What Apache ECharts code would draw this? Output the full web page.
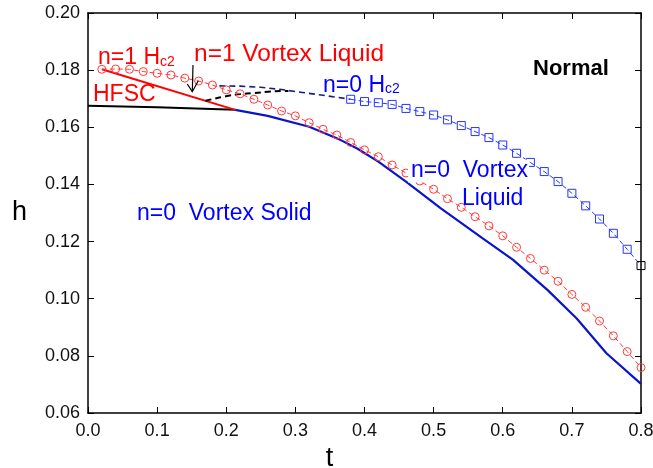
<!DOCTYPE html>
<html>
<head>
<meta charset="utf-8">
<script src="https://cdn.jsdelivr.net/npm/echarts@6/dist/echarts.min.js"></script>
<style>
	html, body { margin: 0; padding: 0; background: #fff; }
	#main { width: 653px; height: 468px; }
</style>
</head>
<body>
<div id="main"></div>
<script>
// n=1 Hc2 (red dashed with circles)
var circleT = [0.02, 0.04, 0.06, 0.08, 0.10, 0.12, 0.14, 0.16, 0.18, 0.20, 0.22, 0.24, 0.26, 0.28, 0.30, 0.32, 0.34, 0.36, 0.38, 0.40,
	0.42, 0.44, 0.46, 0.48, 0.50, 0.52, 0.54, 0.56, 0.58, 0.60, 0.62, 0.64, 0.66, 0.68, 0.70, 0.72, 0.74, 0.76, 0.78, 0.80];
var circleH = [0.1803, 0.1804, 0.1803, 0.1795, 0.1789, 0.1783, 0.1772, 0.1762, 0.1748, 0.1731, 0.1717, 0.1698, 0.1678, 0.1657, 0.1640, 0.1616, 0.1593, 0.1573, 0.1547, 0.1521,
	0.1497, 0.1468, 0.1440, 0.1412, 0.1383, 0.1350, 0.1320, 0.1287, 0.1255, 0.1220, 0.1180, 0.1141, 0.1100, 0.1061, 0.1015, 0.0970, 0.0922, 0.0870, 0.0815, 0.0759];
// n=0 Hc2 (blue dashed with squares)
var squareT = [0.38, 0.40, 0.42, 0.44, 0.46, 0.48, 0.50, 0.52, 0.54, 0.56, 0.58, 0.60, 0.62, 0.64, 0.66, 0.68, 0.70, 0.72, 0.74, 0.76, 0.78, 0.80];
var squareH = [0.1698, 0.1690, 0.1686, 0.1680, 0.1666, 0.1655, 0.1643, 0.1626, 0.1606, 0.1585, 0.1564, 0.1538, 0.1509, 0.1477, 0.1445, 0.1410, 0.1369, 0.1325, 0.1279, 0.1229, 0.1173, 0.1116];
// n=0 Hc2 continued at low t (navy dashed, no markers)
var navyT = [0.19, 0.22, 0.25, 0.28, 0.31, 0.34, 0.36, 0.38];
var navyH = [0.1745, 0.1744, 0.1740, 0.1732, 0.1722, 0.1712, 0.1705, 0.1698];
// n=1 vortex liquid boundary (black dashed)
var dashT = [0.17, 0.19, 0.21, 0.23, 0.25, 0.27, 0.29];
var dashH = [0.1693, 0.1704, 0.1713, 0.1718, 0.1722, 0.1726, 0.1727];
// HFSC / n=0 solid boundary (black solid)
var blackT = [0.0, 0.1, 0.213];
var blackH = [0.1675, 0.1670, 0.1661];
// HFSC upper boundary (red solid)
var redT = [0.02, 0.213];
var redH = [0.1803, 0.1661];
// n=0 melting line (blue solid)
var blueT = [0.213, 0.26, 0.32, 0.365, 0.39, 0.42, 0.46, 0.51, 0.57, 0.615, 0.665, 0.707, 0.75, 0.80];
var blueH = [0.1661, 0.1640, 0.1602, 0.1556, 0.1525, 0.1480, 0.1410, 0.1317, 0.1213, 0.1136, 0.1030, 0.0931, 0.0809, 0.0702];

function pairs(xs, ys) {
	var result = [];
	for (var i = 0; i < xs.length; i++) {
		result.push([xs[i], ys[i]]);
	}
	return result;
}

var FONT = 'Liberation Sans, Arial, Helvetica, sans-serif';

var squareData = pairs(squareT, squareH);
// last square drawn in black
squareData[squareData.length - 1] = {
	value: squareData[squareData.length - 1],
	itemStyle: { borderColor: '#000' }
};

function label(text, x, y, color, size, extra) {
	var st = {
		text: text,
		x: x,
		y: y,
		fill: color,
		fontSize: size,
		fontFamily: FONT,
		align: 'left',
		verticalAlign: 'middle'
	};
	for (var k in extra) st[k] = extra[k];
	return { type: 'text', z: 100, style: st };
}

var myChart = echarts.init(document.getElementById('main'));
option = {
	backgroundColor: '#fff',
	animation: false,
	grid: { left: 88, right: 12, top: 13, bottom: 55, containLabel: false, outerBoundsMode: 'none' },
	xAxis: [{
		type: 'value',
		min: 0,
		max: 0.8,
		interval: 0.1,
		name: 't',
		nameLocation: 'middle',
		nameGap: 26,
		nameTextStyle: { fontSize: 27, fontFamily: FONT, color: '#000', padding: [0, 70, 0, 0] },
		axisLine: { onZero: false, lineStyle: { color: '#000', width: 1.5 } },
		axisTick: { inside: true, length: 6, lineStyle: { color: '#000' } },
		axisLabel: {
			margin: 9, fontSize: 18, fontFamily: FONT, color: '#111',
			formatter: function(v) { return v.toFixed(1); }
		},
		splitLine: { show: false }
	}, {
		type: 'value',
		position: 'top',
		min: 0,
		max: 0.8,
		interval: 0.1,
		axisLine: { onZero: false, lineStyle: { color: '#000', width: 1.5 } },
		axisTick: { inside: true, length: 6, lineStyle: { color: '#000' } },
		axisLabel: { show: false },
		splitLine: { show: false }
	}],
	yAxis: [{
		type: 'value',
		min: 0.06,
		max: 0.20,
		interval: 0.02,
		name: 'h',
		nameLocation: 'middle',
		nameRotate: 0,
		nameGap: 61,
		nameTextStyle: { fontSize: 27, fontFamily: FONT, color: '#000' },
		axisLine: { show: true, onZero: false, lineStyle: { color: '#000', width: 1.5 } },
		axisTick: { show: true, inside: true, length: 6, lineStyle: { color: '#000' } },
		axisLabel: {
			margin: 8, fontSize: 18, fontFamily: FONT, color: '#111',
			formatter: function(v) { return v.toFixed(2); }
		},
		splitLine: { show: false }
	}, {
		type: 'value',
		position: 'right',
		min: 0.06,
		max: 0.20,
		interval: 0.02,
		axisLine: { show: true, onZero: false, lineStyle: { color: '#000', width: 1.5 } },
		axisTick: { show: true, inside: true, length: 6, lineStyle: { color: '#000' } },
		axisLabel: { show: false },
		splitLine: { show: false }
	}],
	series: [{
		name: 'black solid',
		type: 'line',
		symbol: 'none',
		lineStyle: { color: '#000', width: 2 },
		data: pairs(blackT, blackH)
	}, {
		name: 'red solid',
		type: 'line',
		symbol: 'none',
		lineStyle: { color: '#ff0000', width: 2 },
		data: pairs(redT, redH)
	}, {
		name: 'blue solid',
		type: 'line',
		symbol: 'none',
		lineStyle: { color: '#0a14c8', width: 2.2 },
		data: pairs(blueT, blueH)
	}, {
		name: 'black dashed',
		type: 'line',
		symbol: 'none',
		smooth: 0.3,
		lineStyle: { color: '#000', width: 2, type: [6, 4] },
		data: pairs(dashT, dashH)
	}, {
		name: 'navy dashed',
		type: 'line',
		symbol: 'none',
		lineStyle: { color: '#1c1c80', width: 1.6, type: [6, 4] },
		data: pairs(navyT, navyH)
	}, {
		name: 'n=1 Hc2',
		type: 'line',
		symbol: 'circle',
		symbolSize: 8,
		lineStyle: { color: '#ff3b3b', width: 1, type: [5, 3] },
		itemStyle: { color: 'rgba(0,0,0,0)', borderColor: '#ff3b3b', borderWidth: 1 },
		data: pairs(circleT, circleH)
	}, {
		name: 'n=0 Hc2',
		type: 'line',
		symbol: 'rect',
		symbolSize: 8,
		lineStyle: { color: '#2436ff', width: 1, type: [5, 3] },
		itemStyle: { color: 'rgba(0,0,0,0)', borderColor: '#2436ff', borderWidth: 1 },
		data: squareData
	}],
	graphic: [
		label('n=1 H', 98, 58, '#ff0000', 23),
		label('c2', 160, 62, '#ff0000', 14),
		label('n=1 Vortex Liquid', 194, 54, '#ff0000', 24.5),
		label('HFSC', 93, 95, '#ff0000', 23),
		label('n=0 H', 323, 85.5, '#0000ff', 23),
		label('c2', 385, 89.5, '#0000ff', 14),
		label('Normal', 533, 69, '#000', 22, { fontWeight: 'bold' }),
		label('n=0  Vortex', 408, 171, '#0000ff', 23, { backgroundColor: '#fff', padding: [0, 1, 0, 3] }),
		label('Liquid', 462, 198.5, '#0000ff', 23),
		label('n=0  Vortex Solid', 137, 213.5, '#0000ff', 23),
		{
			type: 'polyline',
			z: 100,
			shape: { points: [[193, 65], [192.3, 91.7]] },
			style: { stroke: '#000', lineWidth: 1.2, fill: null }
		},
		{
			type: 'polyline',
			z: 100,
			shape: { points: [[187.3, 84], [192.3, 91.7], [198.3, 80.7]] },
			style: { stroke: '#000', lineWidth: 1.2, fill: null }
		}
	]
};
myChart.setOption(option);
</script>
</body>
</html>
